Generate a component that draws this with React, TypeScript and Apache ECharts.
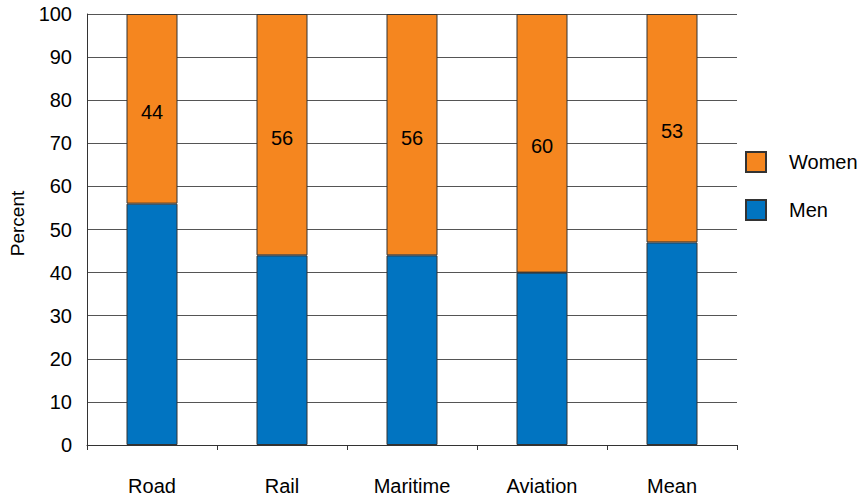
import React, { useEffect, useRef } from "react";
import * as echarts from "echarts";

const categories = ["Road", "Rail", "Maritime", "Aviation", "Mean"];
const menValues = [56, 44, 44, 40, 47];
const womenValues = [44, 56, 56, 60, 53];
const yTicks = { min: 0, max: 100, interval: 10 };

const FONT = "Liberation Sans, Arial, sans-serif";

export default function App() {
  const ref = useRef<HTMLDivElement>(null);
  useEffect(() => {
    if (!ref.current) return;
    const chart = echarts.init(ref.current, undefined, { renderer: "svg" });
    chart.setOption({
      animation: false,
      backgroundColor: "#ffffff",
      textStyle: { fontFamily: FONT },
      grid: {
        left: 87,
        top: 14,
        right: 128,
        bottom: 52,
        containLabel: false,
        outerBoundsMode: "none",
      },
      legend: {
        orient: "vertical",
        left: 745,
        top: 151,
        padding: 0,
        itemWidth: 20,
        itemHeight: 20,
        itemGap: 26,
        icon: "rect",
        data: ["Women", "Men"],
        textStyle: { fontFamily: FONT, fontSize: 20, color: "#000", padding: [0, 0, 0, 18] },
      },
      xAxis: {
        type: "category",
        data: categories,
        boundaryGap: true,
        axisLine: { show: true, lineStyle: { color: "#333", width: 1 } },
        axisTick: { show: true, alignWithLabel: false, length: 5, lineStyle: { color: "#333" } },
        axisLabel: { margin: 31, fontSize: 20, color: "#000", fontFamily: FONT },
        splitLine: { show: false },
      },
      yAxis: {
        type: "value",
        min: yTicks.min,
        max: yTicks.max,
        interval: yTicks.interval,
        name: "Percent",
        nameLocation: "middle",
        nameGap: 60,
        nameRotate: 90,
        nameTextStyle: { fontSize: 19, color: "#000", fontFamily: FONT, padding: [0, 0, 0, 12] },
        axisLine: { show: true, lineStyle: { color: "#333", width: 1 } },
        axisTick: { show: false },
        axisLabel: { margin: 15, fontSize: 20, color: "#000", fontFamily: FONT },
        splitLine: { show: true, lineStyle: { color: "#555", width: 1 } },
      },
      series: [
        {
          name: "Men",
          type: "bar",
          stack: "total",
          data: menValues,
          barWidth: 51,
          itemStyle: { color: "#0174C1", borderColor: "#333", borderWidth: 1 },
        },
        {
          name: "Women",
          type: "bar",
          stack: "total",
          data: womenValues,
          barWidth: 51,
          itemStyle: { color: "#F5861F", borderColor: "#333", borderWidth: 1 },
          label: {
            show: true,
            position: "inside",
            fontSize: 20,
            color: "#000",
            fontFamily: FONT,
            offset: [0, 3],
          },
        },
      ],
    });
    return () => chart.dispose();
  }, []);
  return <div ref={ref} style={{ width: 865, height: 497, position: "absolute", left: 0, top: 0 }} />;
}
